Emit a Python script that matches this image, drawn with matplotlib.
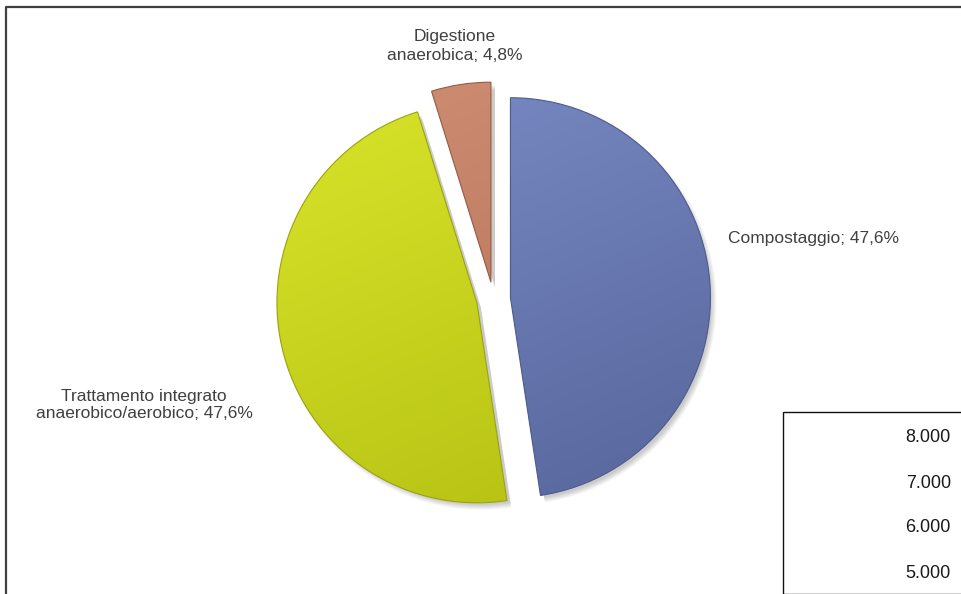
import numpy as np
import matplotlib
matplotlib.use("Agg")
import matplotlib.pyplot as plt
from matplotlib.colors import to_rgb

# data
categories = ["Compostaggio", "Trattamento integrato\nanaerobico/aerobico", "Digestione\nanaerobica"]
shares = [47.6, 47.6, 4.8]
pct_labels = ["47,6%", "47,6%", "4,8%"]
axis_ticks = ["8.000", "7.000", "6.000", "5.000"]

W, H = 961, 594
plt.rcParams["font.family"] = ["Liberation Sans", "DejaVu Sans"]
fig = plt.figure(figsize=(W / 100, H / 100), dpi=100)
ax = fig.add_axes([0, 0, 1, 1])

Y = lambda y: H - y  # image rows -> data y

# colours (light, dark) for gradient fills
grads = [("#7a8ac4", "#57669c"), ("#d8e42a", "#b4bf12"), ("#d08f74", "#b06c53")]
edges = ["#4d5a8c", "#9aa30c", "#955a44"]
centre, radius, expl = (493.5, Y(299)), 200, 17

# soft drop shadow
for k in range(6):
    sh, _ = ax.pie(shares, startangle=90, counterclock=False, radius=radius + 2 - k,
                   center=(centre[0] + 4, centre[1] - 5), explode=[expl] * 3,
                   colors=["#000000"] * 3, frame=True)
    for w in sh:
        w.set_alpha(0.035); w.set_zorder(1)

wedges, _ = ax.pie(shares, startangle=90, counterclock=False, radius=radius,
                   center=centre, explode=[expl] * 3, colors=[g[0] for g in grads],
                   wedgeprops=dict(linewidth=0.8), frame=True)

for w, (c1, c2), ec in zip(wedges, grads, edges):
    w.set_edgecolor(ec); w.set_zorder(3)
    cx, cy = w.center; r = w.r
    t = np.linspace(0, 1, 200)
    xx, yy = np.meshgrid(t, t)
    f = np.clip(0.3 * xx + 0.7 * yy, 0, 1)[..., None]  # light at top-left, dark bottom-right
    img = (1 - f) * np.array(to_rgb(c1)) + f * np.array(to_rgb(c2))
    im = ax.imshow(img, extent=[cx - r, cx + r, cy - r, cy + r], zorder=2,
                   interpolation="bilinear", aspect="auto")
    im.set_clip_path(w)
    w.set_facecolor("none")
ax.set_xlim(0, W); ax.set_ylim(0, H); ax.axis("off")

# labels
tc = "#404040"
ax.text(728, Y(238), f"{categories[0]}; {pct_labels[0]}", fontsize=12.5, color=tc,
        ha="left", va="center")
ax.text(144, Y(405), f"{categories[1]}; {pct_labels[1]}", fontsize=12.5, color=tc,
        ha="center", va="center", linespacing=1.25)
ax.text(455, Y(46), f"{categories[2]}; {pct_labels[2]}", fontsize=12.5, color=tc,
        ha="center", va="center", linespacing=1.25)

# outer frame
ax.plot([6, 6, W], [0, Y(7), Y(7)], color="#404040", lw=1.6, solid_capstyle="butt", zorder=5)

# overlapping chart box
ax.add_patch(plt.Rectangle((783, 0), W - 783 + 2, Y(412), facecolor="white",
                           edgecolor="#111111", lw=1.0, zorder=6))
for i, lab in enumerate(axis_ticks):
    ax.text(951, Y(438 + 45 * i), lab, fontsize=13, color="#1a1a1a", ha="right",
            va="center", zorder=7)

fig.savefig("out.png", dpi=100)
